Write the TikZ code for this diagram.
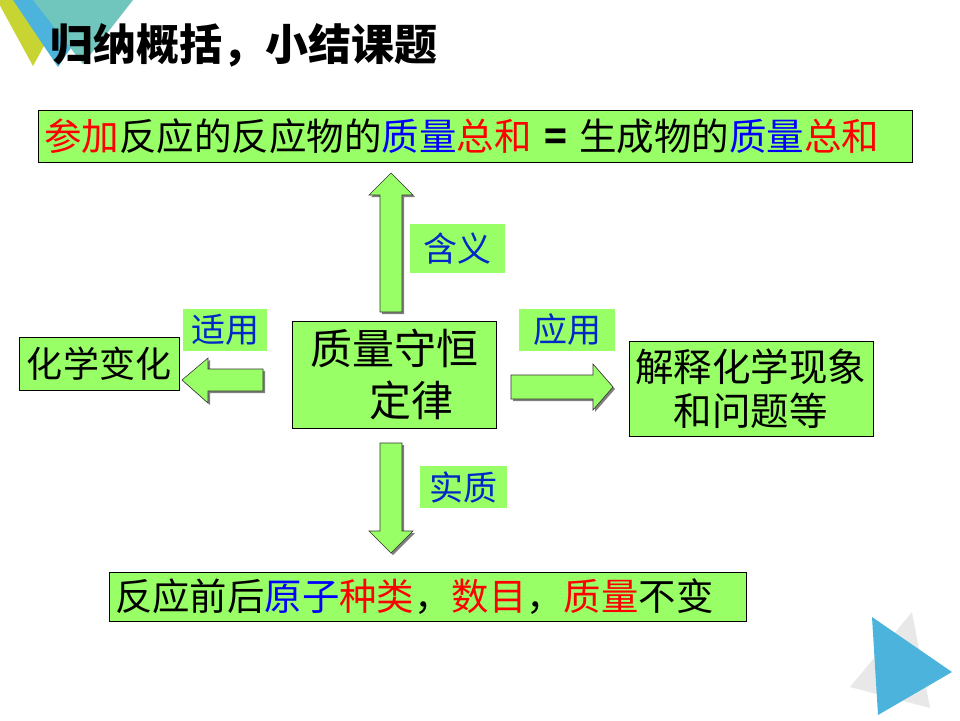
\documentclass[tikz,border=0pt]{standalone}
\usepackage{fontspec}
\setmainfont{Noto Sans CJK SC}
\definecolor{boxgreen}{RGB}{153,255,102}
\definecolor{lblblue}{RGB}{0,40,200}
\definecolor{decoyellow}{RGB}{200,212,50}
\definecolor{decoblue}{RGB}{76,180,220}
\definecolor{decoteal}{RGB}{112,198,188}
\definecolor{decogray}{RGB}{232,232,232}
\definecolor{txtred}{RGB}{255,0,0}
\definecolor{txtblue}{RGB}{0,0,255}
\begin{document}
\begin{tikzpicture}[x=1pt,y=-1pt,
  box/.style={draw=black, line width=0.8pt, fill=boxgreen, inner sep=0pt, font=\fontsize{36}{40}\selectfont},
  lbl/.style={fill=boxgreen, inner sep=0pt, text=lblblue, font=\fontsize{34}{36}\selectfont},
  blockarrow/.style={draw=black!80, line width=0.6pt, fill=boxgreen},
  arrowshadow/.style={fill=black!50, shift={(2,2)}},
]
\fill[white] (0,0) rectangle (960,720);
\useasboundingbox (0,0) rectangle (960,720);

% top-left decoration
\fill[decoyellow] (-3,0) -- (69,0) -- (33,66) -- cycle;
\fill[decoblue] (13,0) -- (103,0) -- (58,67) -- cycle;
\fill[decoteal] (33,0) -- (133,0) -- (83,64) -- cycle;

% bottom-right decoration
\fill[decogray] (912,612) -- (930,708) -- (850,687) -- cycle;
\fill[decoblue] (872,617) -- (952,672) -- (878,715) -- cycle;

% title
\node[anchor=west, inner sep=0pt, font=\fontsize{43}{46}\selectfont\bfseries] (title) at (50,45) {归纳概括，小结课题};

% boxes
\node[box, minimum width=874pt, minimum height=52pt, text width=862pt, align=left, inner xsep=6pt, font=\fontsize{37.5}{40}\selectfont] (def) at (475,136)
  {{\color{txtred}参加}反应的反应物的{\color{txtblue}质量}{\color{txtred}总和} {\bfseries =} 生成物的{\color{txtblue}质量}{\color{txtred}总和}};
\node[box, minimum width=160pt, minimum height=53pt] (chem) at (99,363.5) {化学变化};
\node[box, minimum width=204pt, minimum height=107pt, align=center, font=\fontsize{42}{52}\selectfont] (law) at (394,374.5)
  {质量守恒\\\hspace*{34pt}定律};
\node[box, minimum width=244pt, minimum height=95pt, text width=232pt, align=left, font=\fontsize{38.5}{44}\selectfont] (app) at (751,388.5)
  {解释化学现象\\\hspace*{1em}和问题等};
\node[box, minimum width=637pt, minimum height=49pt, text width=625pt, align=left, inner xsep=6pt, font=\fontsize{37.4}{40}\selectfont] (ess) at (427.5,596.5)
  {反应前后{\color{txtblue}原子}{\color{txtred}种类}，{\color{txtred}数目}，{\color{txtred}质量}不变};

% labels
\node[lbl, minimum width=95pt, minimum height=49pt] (lmean) at (457.5,248.5) {含义};
\node[lbl, minimum width=84pt, minimum height=42pt] (lscope) at (225,330) {适用};
\node[lbl, minimum width=96pt, minimum height=42pt] (luse) at (567,330) {应用};
\node[lbl, minimum width=87pt, minimum height=42pt] (lcore) at (463.5,487) {实质};

% block arrows: up
\fill[arrowshadow] (380,312) -- (380,195) -- (369,195) -- (391,173) -- (413,195) -- (402,195) -- (402,312) -- cycle;
\draw[blockarrow] (380,312) -- (380,195) -- (369,195) -- (391,173) -- (413,195) -- (402,195) -- (402,312) -- cycle;
% left
\fill[arrowshadow] (263,369) -- (208,369) -- (208,358) -- (182,380) -- (208,403) -- (208,391) -- (263,391) -- cycle;
\draw[blockarrow] (263,369) -- (208,369) -- (208,358) -- (182,380) -- (208,403) -- (208,391) -- (263,391) -- cycle;
% right
\fill[arrowshadow] (511,375) -- (593,375) -- (593,364) -- (613,387) -- (593,410) -- (593,399) -- (511,399) -- cycle;
\draw[blockarrow] (511,375) -- (593,375) -- (593,364) -- (613,387) -- (593,410) -- (593,399) -- (511,399) -- cycle;
% down
\fill[arrowshadow] (380,443) -- (380,531) -- (369,531) -- (391,553) -- (413,531) -- (402,531) -- (402,443) -- cycle;
\draw[blockarrow] (380,443) -- (380,531) -- (369,531) -- (391,553) -- (413,531) -- (402,531) -- (402,443) -- cycle;
\end{tikzpicture}
\end{document}
